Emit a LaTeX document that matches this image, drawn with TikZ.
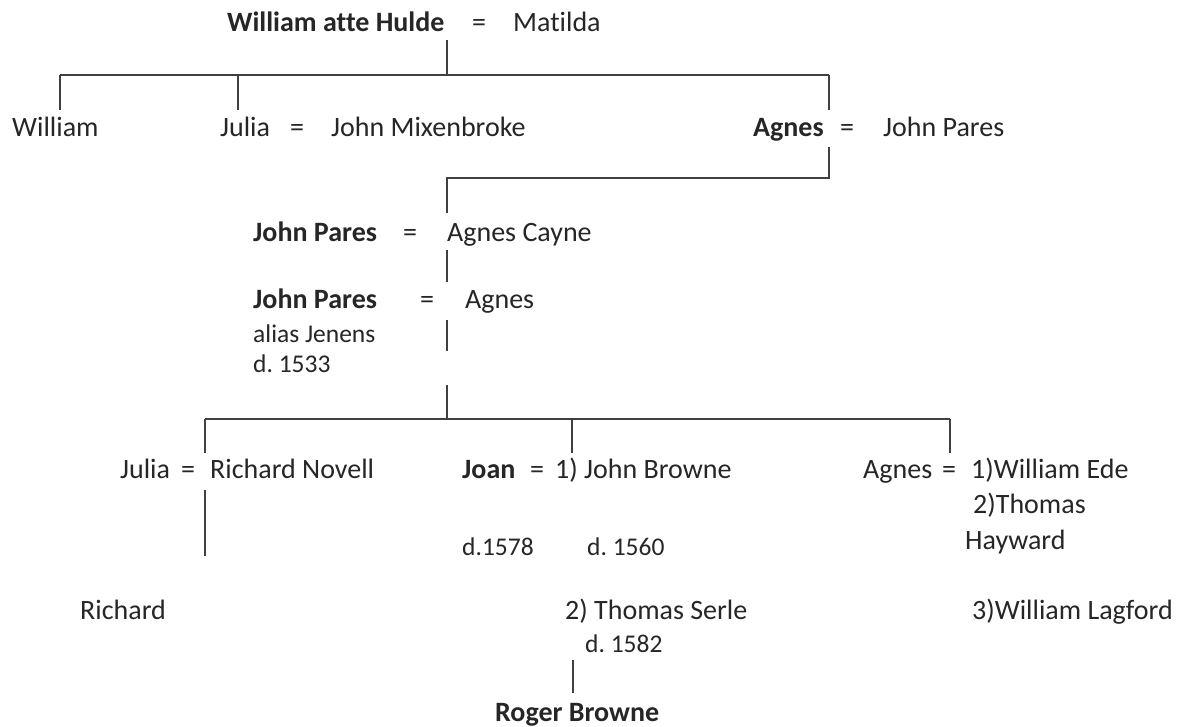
\documentclass[tikz,border=0pt]{standalone}
\usepackage{fontspec}
\setmainfont{Carlito}[Ligatures={NoCommon}]
\usetikzlibrary{positioning}
\frenchspacing
\tikzset{
  pers/.style={inner sep=0pt,anchor=base west,font=\fontsize{28}{32}\selectfont,text=black!85},
  heir/.style={pers,font=\fontsize{28}{32}\selectfont\bfseries},
  note/.style={pers,font=\fontsize{25.5}{30}\selectfont},
  eq/.style={pers,anchor=base},
  line/.style={line width=1.4pt,black!75},
}
\begin{document}
\begin{tikzpicture}[x=1pt,y=-1pt]
  \fill[white] (0,0) rectangle (1181,727);
  \useasboundingbox (0,0) rectangle (1181,727);
  % generation 1
  \node[heir] (wah) at (227,32) {William atte Hulde};
  \node[eq] (e1) at (479,32) {=};
  \node[pers] (mat) at (513,32) {Matilda};
  % generation 2
  \node[pers] (wil) at (12,137) {William};
  \node[pers] (jul) at (220,137) {Julia};
  \node[eq] (e2) at (297,137) {=};
  \node[pers] (mix) at (331,137) {John Mixenbroke};
  \node[heir] (agn) at (753,137) {Agnes};
  \node[eq] (e3) at (847,137) {=};
  \node[pers] (jp1) at (883,137) {John Pares};
  % generation 3 and 4
  \node[heir] (jp2) at (253,242) {John Pares};
  \node[eq] (e4) at (410,242) {=};
  \node[pers] (cay) at (447,242) {Agnes Cayne};
  \node[heir] (jp3) at (253,309) {John Pares};
  \node[eq] (e5) at (427,309) {=};
  \node[pers] (ag3) at (465,309) {Agnes};
  \node[note] (ali) at (253,343) {alias Jenens};
  \node[note] (d33) at (253,372) {d. 1533};
  % generation 5
  \node[pers] (ju5) at (120,478) {Julia};
  \node[eq] (e6) at (188,478) {=};
  \node[pers] (nov) at (210,478) {Richard Novell};
  \node[heir] (joa) at (462,478) {Joan};
  \node[eq] (e7) at (537,478) {=};
  \node[pers] (bro) at (555,478) {1) John Browne};
  \node[note] (d78) at (462,555) {d.1578};
  \node[note] (d60) at (587,555) {d. 1560};
  \node[pers] (ser) at (565,619) {2) Thomas Serle};
  \node[note] (d82) at (585,652) {d. 1582};
  \node[pers] (ag5) at (863,478) {Agnes};
  \node[eq] (e8) at (949,478) {=};
  \node[pers] (ede) at (971,478) {1)William Ede};
  \node[pers] (tho) at (973,513) {2)Thomas};
  \node[pers] (hay) at (965,549) {Hayward};
  \node[pers] (lag) at (972,619) {3)William Lagford};
  % generation 6
  \node[pers] (ric) at (80,619) {Richard};
  \node[heir] (rog) at (495,721) {Roger Browne};
  % junctions
  \coordinate (t1) at (447,40);   \coordinate (f1) at (447,75);
  \coordinate (f1w) at (60,75);   \coordinate (f1e) at (829,75);
  \coordinate (f1j) at (238,75);
  \coordinate (c1a) at (60,110);  \coordinate (c1b) at (238,110);
  \coordinate (c1c) at (829,110);
  \coordinate (m2a) at (829,147); \coordinate (m2b) at (829,178);
  \coordinate (m2c) at (447,178); \coordinate (m2d) at (447,213);
  \coordinate (m3a) at (447,250); \coordinate (m3b) at (447,282);
  \coordinate (m4a) at (447,320); \coordinate (m4b) at (447,351);
  \coordinate (m4c) at (447,385); \coordinate (f4) at (447,419);
  \coordinate (f4w) at (205,419); \coordinate (f4e) at (950,419);
  \coordinate (f4j) at (572,419);
  \coordinate (c4a) at (205,453); \coordinate (c4b) at (572,453);
  \coordinate (c4c) at (950,453);
  \coordinate (m5a) at (205,490); \coordinate (m5b) at (205,556);
  \coordinate (m6a) at (573,660); \coordinate (m6b) at (573,693);
  % lines of descent
  \draw[line] (t1)--(f1); \draw[line] (f1w)--(f1e);
  \draw[line] (f1w)--(c1a); \draw[line] (f1j)--(c1b); \draw[line] (f1e)--(c1c);
  \draw[line] (m2a)--(m2b)--(m2c)--(m2d);
  \draw[line] (m3a)--(m3b); \draw[line] (m4a)--(m4b); \draw[line] (m4c)--(f4);
  \draw[line] (f4w)--(f4e);
  \draw[line] (f4w)--(c4a); \draw[line] (f4j)--(c4b); \draw[line] (f4e)--(c4c);
  \draw[line] (m5a)--(m5b); \draw[line] (m6a)--(m6b);
\end{tikzpicture}
\end{document}
